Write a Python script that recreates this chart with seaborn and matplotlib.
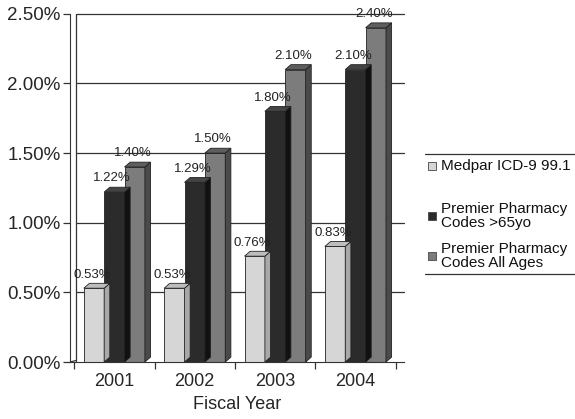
import matplotlib
matplotlib.use("Agg")
import matplotlib.pyplot as plt
import seaborn as sns
import pandas as pd
import numpy as np
from matplotlib.patches import Polygon, Rectangle
from matplotlib.ticker import FixedLocator

years = ["2001", "2002", "2003", "2004"]
series = ["Medpar ICD-9 99.1", "Premier Pharmacy\nCodes >65yo", "Premier Pharmacy\nCodes All Ages"]
medpar = [0.53, 0.53, 0.76, 0.83]
premier_65 = [1.22, 1.29, 1.80, 2.10]
premier_all = [1.40, 1.50, 2.10, 2.40]
yticks = [0.0, 0.5, 1.0, 1.5, 2.0, 2.5]
colors = ["#d6d6d6", "#2b2b2b", "#7c7c7c"]
side_colors = ["#a8a8a8", "#111111", "#4a4a4a"]
top_colors = ["#bdbdbd", "#444444", "#5e5e5e"]

df = pd.DataFrame({
    "year": years * 3,
    "series": [series[0]] * 4 + [series[1]] * 4 + [series[2]] * 4,
    "value": medpar + premier_65 + premier_all,
})

sns.set_style("white")
plt.rcParams["font.family"] = ["Liberation Sans", "DejaVu Sans"]

W, H = 575, 419
fig = plt.figure(figsize=(W / 100, H / 100), dpi=100)
ax = fig.add_axes([0.122, 0.136, 0.58, 0.831])

sns.barplot(data=df, x="year", y="value", hue="series", palette=colors,
            width=0.76, gap=0.0, ax=ax, edgecolor="#222222", linewidth=0.6,
            legend=False)

ax.set_ylim(0, 2.5)
ax.set_xlim(-0.55, 3.6)

# depth of the 3D faces in data units
dx, dy = 0.07, 0.035
for ci, cont in enumerate(ax.containers):
    for bar in cont:
        x0 = bar.get_x()
        w = bar.get_width()
        h = bar.get_height()
        side = Polygon([[x0 + w, 0], [x0 + w + dx, dy], [x0 + w + dx, h + dy], [x0 + w, h]],
                       closed=True, facecolor=side_colors[ci], edgecolor="#222222", lw=0.6, zorder=bar.get_zorder())
        top = Polygon([[x0, h], [x0 + dx, h + dy], [x0 + w + dx, h + dy], [x0 + w, h]],
                      closed=True, facecolor=top_colors[ci], edgecolor="#222222", lw=0.6, zorder=bar.get_zorder())
        ax.add_patch(side)
        ax.add_patch(top)
        ax.annotate(f"{h:.2f}%", (x0 + w * 0.4, h + dy), xytext=(0, 2),
                    textcoords="offset points", ha="center", va="bottom",
                    fontsize=9.5, color="#222222", annotation_clip=False)

# gridlines on the back wall
for yv in yticks[1:]:
    ax.plot([-0.55 + dx, 3.6], [yv, yv], color="#333333", lw=0.9, zorder=0, clip_on=False)
# back wall edge and floor
ax.plot([-0.55 + dx, -0.55 + dx], [dy * 0.3, 2.5], color="#333333", lw=0.9, zorder=0)
ax.plot([-0.55, -0.55 + dx], [0, dy * 0.3], color="#333333", lw=0.9, zorder=0)

ax.set_yticks(yticks)
ax.set_yticklabels([f"{v:.2f}%" for v in yticks], fontsize=13.5)
ax.tick_params(axis="y", direction="out", length=5, width=0.9, color="#333333", left=True, pad=2)
ax.xaxis.set_minor_locator(FixedLocator([-0.5, 0.5, 1.5, 2.5, 3.5]))
ax.tick_params(axis="x", which="major", length=0, labelsize=13, pad=8)
ax.tick_params(axis="x", which="minor", direction="out", length=5, width=0.9, color="#333333", bottom=True)

for s in ["top", "right"]:
    ax.spines[s].set_visible(False)
ax.spines["left"].set_color("#333333")
ax.spines["bottom"].set_color("#333333")

ax.set_xlabel("Fiscal Year", fontsize=13, labelpad=4)
ax.set_ylabel("")

# legend: swatches and labels between two horizontal rules
def fx(px):
    return px / W

def fy(py):
    return 1 - py / H

legend_rows = [166, 216, 256]
for name, c, yrow in zip(series, colors, legend_rows):
    fig.add_artist(Rectangle((fx(428), fy(yrow + 4)), fx(8), 8 / H,
                             facecolor=c, edgecolor="#444444", lw=0.6))
    fig.text(fx(441), fy(yrow), name, fontsize=11, ha="left", va="center",
             linespacing=1.05, color="#111111")
fig.add_artist(plt.Line2D([fx(425), 1.0], [fy(154), fy(154)], color="#333333", lw=0.9))
fig.add_artist(plt.Line2D([fx(425), 1.0], [fy(274), fy(274)], color="#333333", lw=0.9))

fig.savefig("out.png", dpi=100)
